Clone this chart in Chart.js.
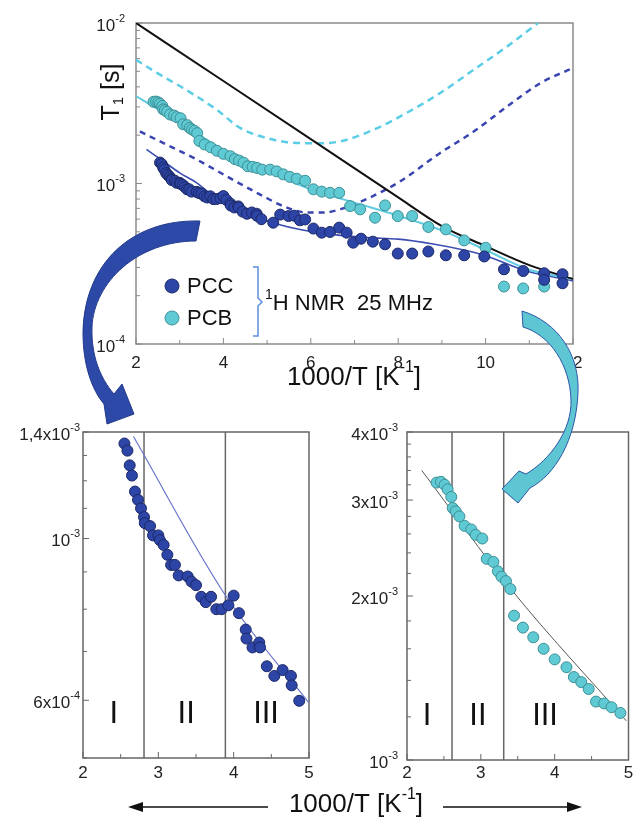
<!DOCTYPE html>
<html>
<head>
<meta charset="utf-8">
<script src="https://cdn.jsdelivr.net/npm/chart.js@4.4.1/dist/chart.umd.min.js"></script>
<style>
  html, body { margin: 0; padding: 0; background: #fff; }
  #wrap { position: relative; width: 635px; height: 820px; overflow: hidden; }
  canvas { position: absolute; left: 0; top: 0; }
</style>
</head>
<body>
<div id="wrap">
  <canvas id="topChart" width="635" height="820"></canvas>
  <canvas id="leftChart" width="635" height="820"></canvas>
  <canvas id="rightChart" width="635" height="820"></canvas>
</div>
<script>
const FONT = "'Liberation Sans', Arial, sans-serif";

// measured points, x = 1000/T [1/K], y = T1 [s]
const pccX = [2.55, 2.59, 2.62, 2.65, 2.69, 2.73, 2.77, 2.81, 2.82, 2.89, 2.93, 3.00, 3.02, 3.07, 3.12, 3.17,
  3.22, 3.27, 3.39, 3.44, 3.50, 3.57, 3.63, 3.70, 3.77, 3.84, 3.93, 4.00, 4.07, 4.16, 4.17, 4.25, 4.34, 4.35,
  4.44, 4.54, 4.65, 4.76, 4.77, 4.87, 5.14, 5.30, 5.49, 5.62, 5.75, 5.87, 6.06, 6.25, 6.44, 6.65, 6.82, 6.97,
  7.15, 7.42, 7.70, 7.99, 8.32, 8.69, 9.09, 9.51, 9.97, 10.42, 10.86, 11.34, 11.34, 11.76, 11.76];
const pccT = [1.35e-3, 1.32e-3, 1.26e-3, 1.22e-3, 1.16e-3, 1.13e-3, 1.10e-3, 1.07e-3, 1.05e-3, 1.04e-3, 1.01e-3,
  1.01e-3, 9.95e-4, 9.8e-4, 9.5e-4, 9.2e-4, 9.2e-4, 8.9e-4, 8.87e-4, 8.73e-4, 8.63e-4, 8.32e-4, 8.18e-4, 8.32e-4,
  8.0e-4, 8.0e-4, 8.1e-4, 8.35e-4, 7.9e-4, 7.5e-4, 7.29e-4, 7.09e-4, 7.2e-4, 7.09e-4, 6.68e-4, 6.48e-4, 6.6e-4,
  6.48e-4, 6.29e-4, 5.99e-4, 5.7e-4, 6.4e-4, 6.27e-4, 6.3e-4, 5.9e-4, 5.97e-4, 5.24e-4, 4.94e-4, 4.99e-4, 5.31e-4,
  4.94e-4, 4.28e-4, 4.53e-4, 4.34e-4, 4.18e-4, 3.66e-4, 3.66e-4, 3.77e-4, 3.57e-4, 3.57e-4, 3.51e-4, 2.92e-4,
  2.85e-4, 2.76e-4, 2.51e-4, 2.72e-4, 2.39e-4];

const pcbX = [2.40, 2.46, 2.51, 2.55, 2.60, 2.62, 2.66, 2.71, 2.78, 2.87, 2.93, 3.02, 3.08, 3.17, 3.23, 3.28,
  3.34, 3.40, 3.45, 3.57, 3.71, 3.85, 4.00, 4.16, 4.26, 4.36, 4.46, 4.56, 4.67, 4.77, 4.89, 5.07, 5.22, 5.37,
  5.52, 5.68, 5.87, 6.06, 6.25, 6.44, 6.65, 6.90, 7.13, 7.47, 7.70, 7.99, 8.32, 8.69, 9.09, 9.51, 10.00, 10.42,
  10.86, 11.34];
const pcbT = [3.23e-3, 3.24e-3, 3.20e-3, 3.14e-3, 3.04e-3, 2.90e-3, 2.86e-3, 2.80e-3, 2.69e-3, 2.65e-3, 2.59e-3,
  2.55e-3, 2.34e-3, 2.31e-3, 2.22e-3, 2.17e-3, 2.13e-3, 2.06e-3, 1.84e-3, 1.75e-3, 1.68e-3, 1.60e-3, 1.53e-3,
  1.48e-3, 1.42e-3, 1.39e-3, 1.35e-3, 1.28e-3, 1.27e-3, 1.25e-3, 1.22e-3, 1.22e-3, 1.19e-3, 1.14e-3, 1.10e-3,
  1.07e-3, 1.04e-3, 9.2e-4, 8.9e-4, 8.75e-4, 8.75e-4, 7.23e-4, 6.9e-4, 6.12e-4, 7.3e-4, 6.27e-4, 6.27e-4,
  5.36e-4, 5.18e-4, 4.42e-4, 3.98e-4, 2.28e-4, 2.22e-4, 2.28e-4];

// model curves of the main panel
const blackX = [2, 4, 6, 8, 9, 10, 11, 12];
const blackT = [1e-2, 4.35e-3, 1.89e-3, 8.2e-4, 5.43e-4, 4.07e-4, 3.1e-4, 2.54e-4];
const pcbFitX = [2, 3, 4, 5, 6, 7, 8, 9, 10, 11, 12];
const pcbFitT = [3.5e-3, 2.4e-3, 1.62e-3, 1.2e-3, 9.2e-4, 7.6e-4, 6.3e-4, 5.1e-4, 3.85e-4, 2.9e-4, 2.54e-4];
const pccFitX = [2.24, 2.62, 3.01, 3.39, 3.77, 4.15, 4.91, 5.7, 6.5, 7.3, 8.0, 8.8, 9.5, 10.0, 10.9, 12];
const pccFitT = [1.63e-3, 1.38e-3, 1.16e-3, 1.01e-3, 8.34e-4, 7.4e-4, 5.97e-4, 5.2e-4, 4.82e-4, 4.6e-4, 4.5e-4,
  4.2e-4, 3.85e-4, 3.55e-4, 2.87e-4, 2.47e-4];
const pcbDashX = [2.0, 2.5, 3.08, 3.85, 4.38, 4.99, 5.45, 6.13, 6.67, 7.43, 8.19, 8.96, 9.72, 10.48, 11.2];
const pcbDashT = [5.9e-3, 4.85e-3, 3.93e-3, 2.88e-3, 2.22e-3, 1.92e-3, 1.81e-3, 1.78e-3, 1.83e-3, 2.16e-3,
  2.75e-3, 3.66e-3, 5.1e-3, 7.1e-3, 1e-2];
const pccDashX = [2.09, 2.62, 3.39, 4.15, 4.91, 5.37, 5.91, 6.3, 6.74, 7.28, 8.04, 8.96, 9.72, 10.48, 11.24, 12];
const pccDashT = [2.11e-3, 1.79e-3, 1.41e-3, 1.08e-3, 8.34e-4, 7.23e-4, 6.6e-4, 6.6e-4, 7.0e-4, 8.0e-4, 1.03e-3,
  1.55e-3, 2.1e-3, 3.0e-3, 4.2e-3, 5.25e-3];

// fits of the two zoomed panels
const pccZoomFitX = [2.67, 3.89, 5.0];
const pccZoomFitT = [1.38e-3, 8.36e-4, 5.95e-4];
const pcbZoomFitX = [2.2, 3.42, 4.97];
const pcbZoomFitT = [3.40e-3, 2.05e-3, 1.18e-3];

// region boundaries and names
const regionNames = ["I", "II", "III"];
const pccBounds = [2.81, 3.89];
const pcbBounds = [2.61, 3.31];
const pccRegionX = [2.41, 3.37, 4.43];
const pcbRegionX = [2.27, 2.96, 3.87];

// ticks
const topXTicks = [2, 4, 6, 8, 10, 12];
const topXMinor = [3, 5, 7, 9, 11];
const topYTicks = [1e-2, 1e-3, 1e-4];
const topYLabels = [["10", "-2"], ["10", "-3"], ["10", "-4"]];
const topYMinor = [2e-3, 3e-3, 4e-3, 5e-3, 6e-3, 7e-3, 8e-3, 9e-3, 2e-4, 3e-4, 4e-4, 5e-4, 6e-4, 7e-4, 8e-4, 9e-4];
const zoomXTicks = [2, 3, 4, 5];
const zoomXMinor = [2.5, 3.5, 4.5];
const pccYTicks = [1.4e-3, 1e-3, 6e-4];
const pccYLabels = [["1,4x10", "-3"], ["10", "-3"], ["6x10", "-4"]];
const pccYMinor = [5e-4, 7e-4, 8e-4, 9e-4, 1.1e-3, 1.2e-3, 1.3e-3];
const pcbYTicks = [4e-3, 3e-3, 2e-3, 1e-3];
const pcbYLabels = [["4x10", "-3"], ["3x10", "-3"], ["2x10", "-3"], ["10", "-3"]];
const pcbYMinor = [1.2e-3, 1.4e-3, 1.6e-3, 1.8e-3, 2.2e-3, 2.4e-3, 2.6e-3, 2.8e-3, 3.2e-3, 3.4e-3, 3.6e-3, 3.8e-3];

const PCC_FILL = "#2d45a6", PCC_EDGE = "#1c2866";
const PCB_FILL = "#5fcad3", PCB_EDGE = "#3d8f96";

const pts = (xs, ys) => xs.map((x, i) => ({ x: x, y: ys[i] }));
const upTo = (xs, ys, max) => pts(xs, ys).filter((p) => p.x <= max);

function scatterSet(label, data, fill, edge, r) {
  return {
    label: label, data: data, showLine: false,
    pointRadius: r, pointBackgroundColor: fill, pointBorderColor: edge, pointBorderWidth: 1,
    backgroundColor: fill, borderColor: edge,
  };
}

function lineSet(data, color, width, dash) {
  return {
    data: data, showLine: true, pointRadius: 0, borderColor: color, borderWidth: width,
    borderDash: dash || [], cubicInterpolationMode: "monotone", fill: false,
  };
}

// text made of parts: plain / superscript / subscript
function drawRich(ctx, parts, x, y, align) {
  let w = 0;
  parts.forEach((p) => {
    ctx.font = p.size + "px " + FONT;
    p.w = ctx.measureText(p.t).width;
    w += p.w;
  });
  let cx = align === "right" ? x - w : align === "center" ? x - w / 2 : x;
  ctx.textAlign = "left";
  ctx.textBaseline = "middle";
  parts.forEach((p) => {
    ctx.font = p.size + "px " + FONT;
    ctx.fillText(p.t, cx, y + (p.dy || 0));
    cx += p.w;
  });
}
const pow = (m, e, s) => [{ t: m, size: s }, { t: e, size: Math.round(s * 0.62), dy: -s * 0.42 }];

function decoPlugin(cfg) {
  return {
    id: "deco",
    beforeDatasetsDraw(chart) {
      const { ctx, chartArea: a, scales: { x, y } } = chart;
      ctx.save();
      ctx.strokeStyle = cfg.frame;
      ctx.lineWidth = 1.5;
      (cfg.bounds || []).forEach((v) => {
        const px = x.getPixelForValue(v);
        ctx.beginPath(); ctx.moveTo(px, a.top); ctx.lineTo(px, a.bottom); ctx.stroke();
      });
      ctx.strokeRect(a.left, a.top, a.right - a.left, a.bottom - a.top);
      ctx.lineWidth = 1;
      const tick = (vals, len, horiz) => vals.forEach((v) => {
        ctx.beginPath();
        if (horiz) {
          const px = x.getPixelForValue(v);
          ctx.moveTo(px, a.bottom); ctx.lineTo(px, a.bottom - len);
        } else {
          const py = y.getPixelForValue(v);
          ctx.moveTo(a.left, py); ctx.lineTo(a.left + len, py);
        }
        ctx.stroke();
      });
      tick(cfg.xTicks, 6, true);
      tick(cfg.xMinor, 4, true);
      tick(cfg.yTicks, 6, false);
      tick(cfg.yMinor, 4, false);
      ctx.restore();
    },
    afterDraw(chart) {
      const { ctx, chartArea: a, scales: { x, y } } = chart;
      ctx.save();
      ctx.fillStyle = "#222";
      cfg.xTicks.forEach((v) => {
        drawRich(ctx, [{ t: String(v), size: cfg.tickSize }], x.getPixelForValue(v), a.bottom + cfg.xLabelDy, "center");
      });
      cfg.yTicks.forEach((v, i) => {
        const lab = cfg.yLabels[i];
        drawRich(ctx, pow(lab[0], lab[1], cfg.tickSize), a.left - cfg.yLabelGap, y.getPixelForValue(v) + 3, "right");
      });
      if (cfg.regionX) {
        ctx.fillStyle = "#111";
        cfg.regionX.forEach((v, i) => {
          drawRich(ctx, [{ t: regionNames[i], size: 31 }], x.getPixelForValue(v), a.bottom - 44, "center");
        });
      }
      if (cfg.extra) cfg.extra(chart);
      ctx.restore();
    },
  };
}

function makeChart(id, datasets, xr, yr, pad, deco) {
  return new Chart(document.getElementById(id), {
    type: "scatter",
    data: { datasets: datasets },
    options: {
      responsive: false,
      animation: false,
      events: [],
      layout: { padding: pad },
      plugins: { legend: { display: false }, tooltip: { enabled: false } },
      scales: {
        x: { type: "linear", min: xr[0], max: xr[1], display: false },
        y: { type: "logarithmic", min: yr[0], max: yr[1], display: false },
      },
    },
    plugins: [decoPlugin(deco)],
  });
}

function topExtras(chart) {
  const ctx = chart.ctx;
  ctx.fillStyle = "#111";
  // axis titles
  ctx.save();
  ctx.translate(112, 92);
  ctx.rotate(-Math.PI / 2);
  drawRich(ctx, [{ t: "T", size: 25 }, { t: "1", size: 15, dy: 7 }, { t: " [s]", size: 25 }], 0, 0, "center");
  ctx.restore();
  drawRich(ctx, [{ t: "1000/T [K", size: 26 }, { t: "-1", size: 16, dy: -10 }, { t: "]", size: 26 }], 354, 378, "center");
  // legend
  const items = [["PCC", PCC_FILL, PCC_EDGE, 286], ["PCB", PCB_FILL, PCB_EDGE, 318]];
  items.forEach(([name, fill, edge, ly]) => {
    ctx.beginPath();
    ctx.arc(172, ly, 7, 0, Math.PI * 2);
    ctx.fillStyle = fill; ctx.fill();
    ctx.strokeStyle = edge; ctx.lineWidth = 1; ctx.stroke();
    ctx.fillStyle = "#111";
    drawRich(ctx, [{ t: name, size: 22 }], 187, ly + 1, "left");
  });
  ctx.strokeStyle = "#5b8fdc";
  ctx.lineWidth = 1.5;
  ctx.beginPath();
  ctx.moveTo(253, 267); ctx.lineTo(258, 267); ctx.lineTo(258, 298); ctx.lineTo(262, 302);
  ctx.lineTo(258, 306); ctx.lineTo(258, 336); ctx.lineTo(253, 336);
  ctx.stroke();
  ctx.fillStyle = "#111";
  drawRich(ctx, [{ t: "1", size: 14, dy: -9 }, { t: "H NMR  25 MHz", size: 22 }], 265, 304, "left");
}

function arrowExtras(chart) {
  const ctx = chart.ctx;
  // blue arrow to the PCC panel
  ctx.beginPath();
  ctx.moveTo(200, 221);
  ctx.bezierCurveTo(132, 219, 84, 263, 83, 333);
  ctx.bezierCurveTo(83, 365, 92, 390, 104, 404);
  ctx.lineTo(107, 424);
  ctx.lineTo(134, 414);
  ctx.lineTo(122, 384);
  ctx.lineTo(114, 394);
  ctx.bezierCurveTo(100, 378, 91, 355, 92, 327);
  ctx.bezierCurveTo(94, 282, 138, 241, 196, 241);
  ctx.closePath();
  ctx.fillStyle = "#2c49a7"; ctx.fill();
  ctx.strokeStyle = "#223a8c"; ctx.lineWidth = 1; ctx.stroke();
  // cyan arrow to the PCB panel
  ctx.beginPath();
  ctx.moveTo(522, 311);
  ctx.bezierCurveTo(558, 322, 580, 355, 578, 393);
  ctx.bezierCurveTo(576, 440, 555, 475, 530, 488);
  ctx.lineTo(518, 503);
  ctx.lineTo(502, 489);
  ctx.lineTo(519, 471);
  ctx.lineTo(526, 474);
  ctx.bezierCurveTo(550, 460, 572, 430, 571, 400);
  ctx.bezierCurveTo(570, 365, 550, 335, 523, 327);
  ctx.closePath();
  ctx.fillStyle = "#5ec6d3"; ctx.fill();
  ctx.strokeStyle = "#2b56a8"; ctx.lineWidth = 1; ctx.stroke();
  // shared caption with arrows
  ctx.fillStyle = "#111";
  drawRich(ctx, [{ t: "1000/T [K", size: 26 }, { t: "-1", size: 16, dy: -10 }, { t: "]", size: 26 }], 356, 805, "center");
  ctx.strokeStyle = "#111";
  ctx.lineWidth = 1.5;
  ctx.beginPath(); ctx.moveTo(268, 807); ctx.lineTo(138, 807); ctx.moveTo(443, 807); ctx.lineTo(572, 807); ctx.stroke();
  ctx.beginPath(); ctx.moveTo(128, 807); ctx.lineTo(143, 802); ctx.lineTo(143, 812); ctx.closePath();
  ctx.moveTo(582, 807); ctx.lineTo(567, 802); ctx.lineTo(567, 812); ctx.closePath();
  ctx.fill();
}

makeChart("topChart", [
  scatterSet("PCC", pts(pccX, pccT), PCC_FILL, PCC_EDGE, 5.5),
  scatterSet("PCB", pts(pcbX, pcbT), PCB_FILL, PCB_EDGE, 5.5),
  lineSet(pts(blackX, blackT), "#111", 2),
  lineSet(pts(pcbFitX, pcbFitT), "#5fcbe2", 2),
  lineSet(pts(pccFitX, pccFitT), "#3b4db2", 1.6),
  lineSet(pts(pcbDashX, pcbDashT), "#5ccde6", 2.5, [7, 5]),
  lineSet(pts(pccDashX, pccDashT), "#3944b0", 2.5, [6, 5]),
], [2, 12], [1e-4, 1e-2], { left: 136, top: 23, right: 62, bottom: 476 }, {
  frame: "#8a8a8a", xTicks: topXTicks, xMinor: topXMinor, yTicks: topYTicks, yMinor: topYMinor,
  yLabels: topYLabels, tickSize: 17, xLabelDy: 19, yLabelGap: 11, extra: topExtras,
});

makeChart("leftChart", [
  scatterSet("PCC", upTo(pccX, pccT, 5), PCC_FILL, PCC_EDGE, 5.5),
  lineSet(pts(pccZoomFitX, pccZoomFitT), "#6a74cc", 1.2),
], [2, 5], [5e-4, 1.4e-3], { left: 83, top: 432, right: 326, bottom: 62 }, {
  frame: "#666", bounds: pccBounds, regionX: pccRegionX, xTicks: zoomXTicks, xMinor: zoomXMinor,
  yTicks: pccYTicks, yMinor: pccYMinor, yLabels: pccYLabels, tickSize: 17, xLabelDy: 15, yLabelGap: 3,
});

makeChart("rightChart", [
  scatterSet("PCB", upTo(pcbX, pcbT, 5), PCB_FILL, PCB_EDGE, 5.5),
  lineSet(pts(pcbZoomFitX, pcbZoomFitT), "#555", 1),
], [2, 5], [1e-3, 4e-3], { left: 407, top: 432, right: 2, bottom: 60 }, {
  frame: "#666", bounds: pcbBounds, regionX: pcbRegionX, xTicks: zoomXTicks, xMinor: zoomXMinor,
  yTicks: pcbYTicks, yMinor: pcbYMinor, yLabels: pcbYLabels, tickSize: 17, xLabelDy: 13, yLabelGap: 9,
  extra: arrowExtras,
});
</script>
</body>
</html>
